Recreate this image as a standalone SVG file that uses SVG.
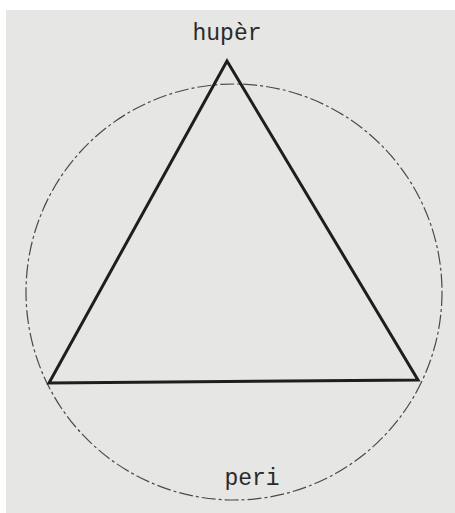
<svg xmlns="http://www.w3.org/2000/svg" width="455" height="513" viewBox="0 0 455 513">
<style>
.lbl{font-family:"Liberation Mono","DejaVu Sans Mono",monospace;font-size:23px;fill:#2a2a2a;text-anchor:middle}
.tri{fill:none;stroke:#1e1e1e;stroke-width:3;stroke-linejoin:miter}
.circ{fill:none;stroke:#4a4a4a;stroke-width:1.2;stroke-dasharray:14 3 3 3}
</style>
<rect x="0" y="0" width="455" height="513" fill="#ffffff"/>
<rect x="6" y="10" width="449" height="503" fill="#e6e6e4"/>
<g id="circle"><circle class="circ" cx="234" cy="292" r="208"/></g>
<g id="triangle"><polygon class="tri" points="227,61 418,380 49,383"/></g>
<g id="huper"><text class="lbl" x="227" y="40">hupèr</text></g>
<g id="peri"><text class="lbl" x="252" y="485">peri</text></g>
</svg>
